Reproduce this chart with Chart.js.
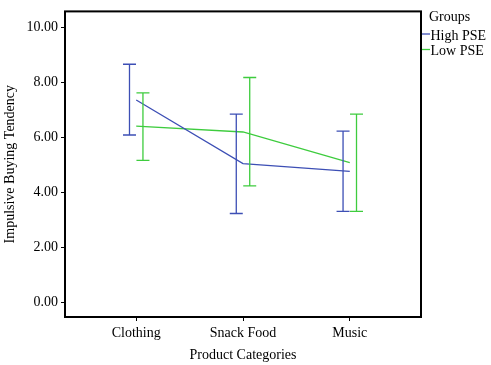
<!DOCTYPE html>
<html>
<head>
<meta charset="utf-8">
<script src="https://cdn.jsdelivr.net/npm/chart.js@4/dist/chart.umd.min.js"></script>
<style>
  body { margin: 0; background: #fff; }
  #wrap { width: 491px; height: 365px; }
</style>
</head>
<body>
<div id="wrap"><canvas id="chart" width="491" height="365"></canvas></div>
<script>
const categories = ["Clothing", "Snack Food", "Music"];
const seriesNames = ["High PSE", "Low PSE"];
const highMean = [7.35, 5.04, 4.76];
const highLow = [6.08, 3.23, 3.31];
const highHigh = [8.65, 6.84, 6.22];
const lowMean = [6.40, 6.19, 5.08];
const lowLow = [5.16, 4.23, 3.31];
const lowHigh = [7.61, 8.17, 6.84];
const yTicks = [0, 2, 4, 6, 8, 10];

const BLUE = "#3d4fb5";
const GREEN = "#3ecc3e";
const FONT = "'Liberation Serif', 'Times New Roman', serif";

// error bars, drawn on the chart's own scales
const errorBars = {
  id: "errorBars",
  afterDatasetsDraw(chart) {
    const { ctx, scales } = chart;
    const sets = [
      { low: highLow, high: highHigh, color: BLUE, dodge: -0.063 },
      { low: lowLow, high: lowHigh, color: GREEN, dodge: 0.063 },
    ];
    ctx.save();
    ctx.lineWidth = 1.3;
    sets.forEach((s) => {
      ctx.strokeStyle = s.color;
      categories.forEach((c, i) => {
        const x = scales.x.getPixelForValue(i + s.dodge);
        const y1 = scales.y.getPixelForValue(s.low[i]);
        const y2 = scales.y.getPixelForValue(s.high[i]);
        ctx.beginPath();
        ctx.moveTo(x, y1); ctx.lineTo(x, y2);
        ctx.moveTo(x - 6.5, y1); ctx.lineTo(x + 6.5, y1);
        ctx.moveTo(x - 6.5, y2); ctx.lineTo(x + 6.5, y2);
        ctx.stroke();
      });
    });
    ctx.restore();
  },
};

// plot frame and legend
const frameLegend = {
  id: "frameLegend",
  afterDraw(chart) {
    const { ctx, chartArea: a } = chart;
    ctx.save();
    ctx.strokeStyle = "#000";
    ctx.lineWidth = 2;
    ctx.strokeRect(a.left, a.top, a.right - a.left, a.bottom - a.top);

    ctx.font = "14px " + FONT;
    ctx.fillStyle = "#000";
    ctx.textBaseline = "alphabetic";
    ctx.fillText("Groups", a.right + 8, 20.5);
    const colors = [BLUE, GREEN];
    seriesNames.forEach((n, i) => {
      const base = 39.5 + i * 15.5;
      ctx.strokeStyle = colors[i];
      ctx.lineWidth = 1.3;
      ctx.beginPath();
      ctx.moveTo(a.right + 1, base - 5.5);
      ctx.lineTo(a.right + 9, base - 5.5);
      ctx.stroke();
      ctx.fillText(n, a.right + 9.5, base);
    });
    ctx.restore();
  },
};

const toPoints = (arr) => arr.map((v, i) => ({ x: i, y: v }));

new Chart(document.getElementById("chart"), {
  type: "line",
  data: {
    datasets: [
      { label: seriesNames[0], data: toPoints(highMean), borderColor: BLUE, borderWidth: 1.3, pointRadius: 0, tension: 0 },
      { label: seriesNames[1], data: toPoints(lowMean), borderColor: GREEN, borderWidth: 1.3, pointRadius: 0, tension: 0 },
    ],
  },
  options: {
    responsive: false,
    animation: false,
    layout: { padding: { top: 3, right: 70, left: 0, bottom: 0 } },
    plugins: { legend: { display: false }, tooltip: { enabled: false } },
    scales: {
      x: {
        type: "linear",
        min: -0.667,
        max: 2.667,
        afterBuildTicks: (s) => { s.ticks = categories.map((c, i) => ({ value: i })); },
        afterFit: (s) => { s.height = 48; },
        ticks: { color: "#000", font: { family: FONT, size: 14 }, padding: 4, maxRotation: 0,
          callback: (v) => categories[v] },
        grid: { drawOnChartArea: false, drawTicks: true, tickLength: 4, color: "#000" },
        border: { display: false },
        title: { display: true, text: "Product Categories", color: "#000",
          font: { family: FONT, size: 14 }, padding: { top: 0, bottom: 1 } },
      },
      y: {
        min: -0.53,
        max: 10.57,
        afterBuildTicks: (s) => { s.ticks = yTicks.map((v) => ({ value: v })); },
        afterFit: (s) => { s.width = 65; },
        ticks: { color: "#000", font: { family: FONT, size: 14 }, padding: 3,
          callback: (v) => Number(v).toFixed(2) },
        grid: { drawOnChartArea: false, drawTicks: true, tickLength: 4, color: "#000" },
        border: { display: false },
        title: { display: true, text: "Impulsive Buying Tendency", color: "#000",
          font: { family: FONT, size: 14 }, padding: { top: 2, bottom: 0 } },
      },
    },
  },
  plugins: [errorBars, frameLegend],
});
</script>
</body>
</html>
